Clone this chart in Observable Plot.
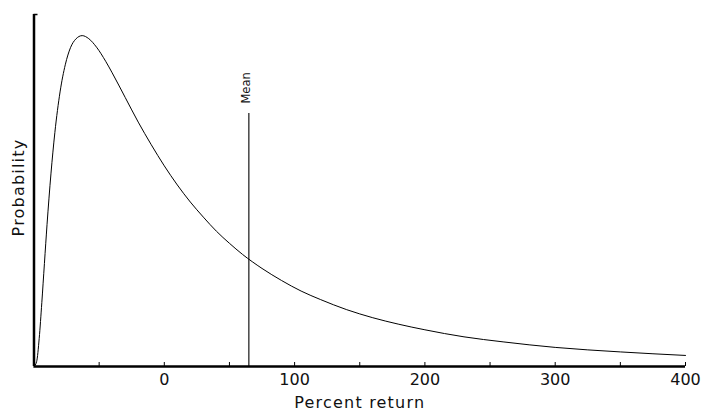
<!DOCTYPE html>
<html>
<head>
<meta charset="utf-8">
<script src="https://cdn.jsdelivr.net/npm/d3@7"></script>
<script src="https://cdn.jsdelivr.net/npm/@observablehq/plot@0.6"></script>
<style>
  html, body { margin: 0; padding: 0; background: #fff; }
  #chart svg { display: block; font-family: "DejaVu Sans", sans-serif; }
  #chart svg .axis-title text { letter-spacing: 1.2px; }
</style>
</head>
<body>
<div id="chart"></div>
<script>
// Percent return (x) and probability density (y)
const returns = [-100, -98, -96, -94, -92, -90, -87, -84, -80, -76, -72, -68, -63, -58, -52, -45, -40, -30, -20, -10, 0, 10, 20, 30, 40, 50, 60, 75, 90, 105, 120, 140, 160, 180, 200, 230, 260, 300, 350, 400];
const probability = [0, 0.0095, 0.056, 0.127, 0.205, 0.282, 0.383, 0.465, 0.546, 0.600, 0.634, 0.651, 0.658, 0.652, 0.635, 0.607, 0.584, 0.535, 0.486, 0.441, 0.399, 0.361, 0.327, 0.297, 0.269, 0.245, 0.223, 0.195, 0.171, 0.150, 0.133, 0.113, 0.097, 0.084, 0.073, 0.059, 0.049, 0.038, 0.029, 0.022];
const meanReturn = [64.9];
const meanLineTop = 0.503;
const xTickLabels = [0, 100, 200, 300, 400];
const xMinorTicks = [-50, 0, 50, 100, 150, 200, 250, 300, 350, 400];
const xLabel = "Percent return";
const yLabel = "Probability";
const meanLabel = "Mean";

const curve = returns.map((r, i) => ({r, p: probability[i]}));

const W = 701, H = 412;
const mTop = 14, mBottom = 46, mLeft = 33.5, mRight = 16;
const frameH = H - mTop - mBottom;

const chart = Plot.plot({
  width: W,
  height: H,
  marginTop: mTop,
  marginBottom: mBottom,
  marginLeft: mLeft,
  marginRight: mRight,
  x: {domain: [-100, 400], axis: null},
  y: {domain: [0, 0.7], axis: null},
  style: {background: "#fff", color: "#000", fontSize: "16px"},
  marks: [
    // minor ticks pointing up from the x axis
    Plot.tickX(xMinorTicks, {x: d => d, stroke: "#000", strokeWidth: 1, insetTop: frameH - 4}),
    // top tick on y axis
    Plot.tickY([0.7], {y: d => d, stroke: "#000", strokeWidth: 1.5, insetLeft: 0, insetRight: W - mLeft - mRight - 4}),
    // curve
    Plot.line(curve, {x: "r", y: "p", stroke: "#000", strokeWidth: 1, curve: "monotone-x"}),
    // mean line
    Plot.ruleX(meanReturn, {x: d => d, y1: 0, y2: meanLineTop, stroke: "#000", strokeWidth: 1.1}),
    Plot.text(meanReturn, {x: d => d, y: meanLineTop, text: () => meanLabel, rotate: -90, textAnchor: "start", lineAnchor: "bottom", dy: -10, dx: 1, fontSize: 11.5, fill: "#111"}),
    // axes lines
    Plot.ruleY([0], {stroke: "#000", strokeWidth: 2.5}),
    Plot.ruleX([-100], {stroke: "#000", strokeWidth: 2.5, y1: 0, y2: 0.7}),
    // tick labels
    Plot.text(xTickLabels, {x: d => d, text: d => String(d), frameAnchor: "bottom", lineAnchor: "middle", dy: 13, fontSize: 16, fill: "#111"}),
    // axis titles
    Plot.text([xLabel], {frameAnchor: "bottom", text: d => d, textAnchor: "middle", lineAnchor: "middle", dy: 36.5, fontSize: 16, fill: "#111", className: "axis-title"}),
    Plot.text([yLabel], {frameAnchor: "left", text: d => d, rotate: -90, textAnchor: "middle", lineAnchor: "middle", dx: -15, dy: -3, fontSize: 16, fill: "#111", className: "axis-title"})
  ]
});
document.getElementById("chart").appendChild(chart);
</script>
</body>
</html>
